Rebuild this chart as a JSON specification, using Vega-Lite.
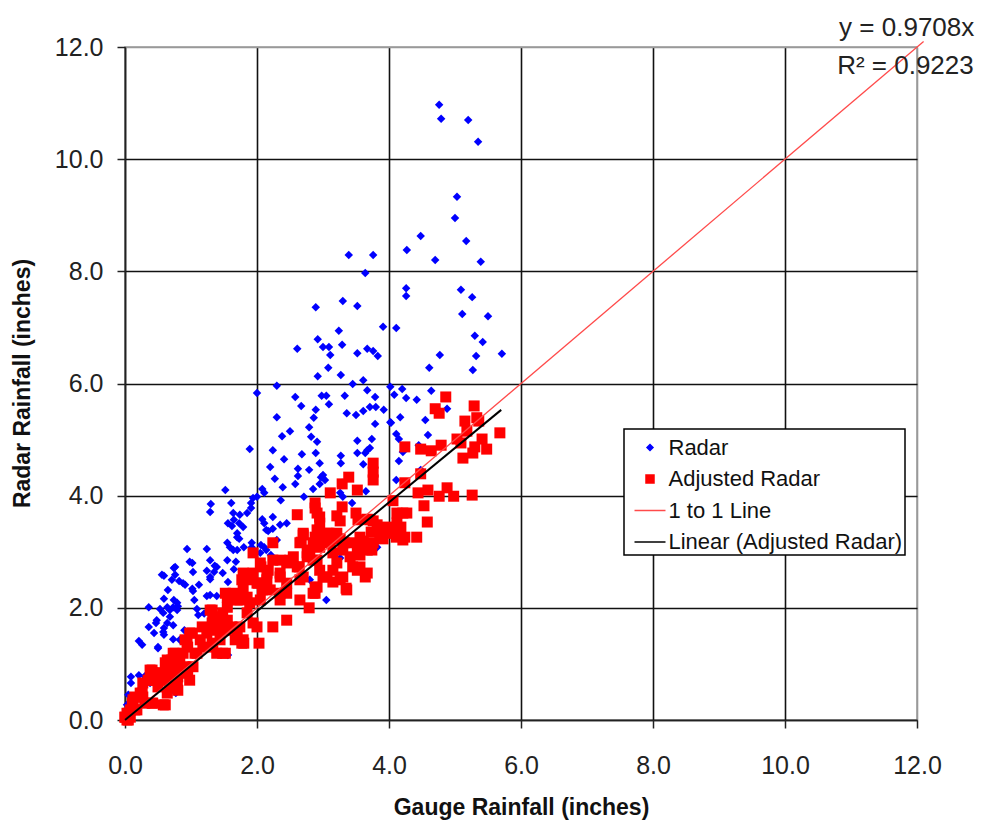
{
  "$schema": "https://vega.github.io/schema/vega-lite/v6.json",
  "autosize": {"type": "none"},
  "width": 792,
  "height": 673,
  "padding": {"left": 125, "top": 47, "right": 67, "bottom": 104},
  "background": "white",
  "config": {
    "view": {"stroke": "#999999", "strokeWidth": 1.5},
    "axis": {
      "labelFont": "Liberation Sans",
      "labelFontSize": 25,
      "labelColor": "#222222",
      "labelFlush": false,
      "labelOverlap": false,
      "tickSize": 8,
      "tickColor": "#222222",
      "tickWidth": 1.5,
      "domainColor": "#222222",
      "domainWidth": 1.5,
      "gridWidth": 1.6,
      "gridColor": {"condition": {"test": "datum.value === 12", "value": "#999999"}, "value": "#111111"},
      "titleFont": "Liberation Sans",
      "titleFontSize": 23,
      "titleFontWeight": "bold",
      "titleColor": "#111111"
    }
  },
  "datasets": {
    "radar": [
      {"gauge":4.76,"radar":10.97},{"gauge":4.79,"radar":10.72},{"gauge":5.20,"radar":10.70},{"gauge":5.35,"radar":10.31},
      {"gauge":5.03,"radar":9.33},{"gauge":5.00,"radar":8.95},{"gauge":4.48,"radar":8.63},{"gauge":5.17,"radar":8.54},
      {"gauge":4.27,"radar":8.38},{"gauge":4.70,"radar":8.20},{"gauge":5.39,"radar":8.17},{"gauge":3.39,"radar":8.29},
      {"gauge":3.76,"radar":8.29},{"gauge":3.64,"radar":7.97},{"gauge":4.26,"radar":7.70},{"gauge":4.26,"radar":7.56},
      {"gauge":5.09,"radar":7.67},{"gauge":5.26,"radar":7.54},{"gauge":5.11,"radar":7.24},{"gauge":5.50,"radar":7.20},
      {"gauge":2.89,"radar":7.36},{"gauge":3.30,"radar":7.47},{"gauge":3.52,"radar":7.38},{"gauge":3.91,"radar":7.01},
      {"gauge":4.11,"radar":6.99},{"gauge":3.24,"radar":6.94},{"gauge":2.92,"radar":6.79},{"gauge":3.00,"radar":6.65},
      {"gauge":3.09,"radar":6.65},{"gauge":3.11,"radar":6.51},{"gauge":3.29,"radar":6.69},{"gauge":3.52,"radar":6.54},
      {"gauge":3.67,"radar":6.62},{"gauge":3.76,"radar":6.58},{"gauge":3.83,"radar":6.49},{"gauge":2.61,"radar":6.62},
      {"gauge":3.08,"radar":6.28},{"gauge":2.92,"radar":6.13},{"gauge":3.27,"radar":6.15},{"gauge":3.61,"radar":6.06},
      {"gauge":3.45,"radar":5.99},{"gauge":4.61,"radar":6.28},{"gauge":4.77,"radar":6.51},{"gauge":5.30,"radar":6.85},
      {"gauge":5.42,"radar":6.74},{"gauge":5.32,"radar":6.49},{"gauge":5.71,"radar":6.53},{"gauge":5.27,"radar":6.24},
      {"gauge":4.64,"radar":5.87},{"gauge":4.02,"radar":5.94},{"gauge":4.20,"radar":5.90},{"gauge":4.08,"radar":5.80},
      {"gauge":3.67,"radar":5.88},{"gauge":3.79,"radar":5.76},{"gauge":2.00,"radar":5.83},{"gauge":2.30,"radar":5.96},
      {"gauge":2.58,"radar":5.76},{"gauge":2.98,"radar":5.78},{"gauge":3.05,"radar":5.78},{"gauge":3.33,"radar":5.78},
      {"gauge":4.26,"radar":5.74},{"gauge":4.42,"radar":5.71},{"gauge":4.88,"radar":5.55},{"gauge":2.67,"radar":5.60},
      {"gauge":2.30,"radar":5.40},{"gauge":2.89,"radar":5.53},{"gauge":2.86,"radar":5.39},{"gauge":2.79,"radar":5.22},
      {"gauge":2.50,"radar":5.15},{"gauge":2.38,"radar":5.06},{"gauge":2.82,"radar":5.05},{"gauge":2.91,"radar":4.96},
      {"gauge":1.89,"radar":4.83},{"gauge":2.24,"radar":4.81},{"gauge":2.68,"radar":4.74},{"gauge":2.89,"radar":4.76},
      {"gauge":2.41,"radar":4.65},{"gauge":2.20,"radar":4.51},{"gauge":2.62,"radar":4.48},{"gauge":2.79,"radar":4.46},
      {"gauge":2.62,"radar":4.35},{"gauge":2.27,"radar":4.30},{"gauge":2.58,"radar":4.21},{"gauge":2.39,"radar":4.15},
      {"gauge":2.85,"radar":4.12},{"gauge":2.08,"radar":4.12},{"gauge":2.11,"radar":4.05},{"gauge":1.52,"radar":4.10},
      {"gauge":1.94,"radar":3.96},{"gauge":2.36,"radar":3.92},{"gauge":1.30,"radar":3.85},{"gauge":1.61,"radar":3.87},
      {"gauge":1.91,"radar":3.87},{"gauge":2.71,"radar":3.98},{"gauge":2.95,"radar":4.21},{"gauge":3.36,"radar":5.47},
      {"gauge":3.50,"radar":5.44},{"gauge":3.61,"radar":5.51},{"gauge":3.71,"radar":5.58},{"gauge":3.80,"radar":5.58},
      {"gauge":3.92,"radar":5.53},{"gauge":3.79,"radar":5.28},{"gauge":4.03,"radar":5.30},{"gauge":4.17,"radar":5.40},
      {"gauge":4.55,"radar":5.35},{"gauge":4.59,"radar":5.08},{"gauge":4.11,"radar":5.10},{"gauge":4.15,"radar":5.01},
      {"gauge":3.52,"radar":4.98},{"gauge":3.74,"radar":5.01},{"gauge":3.71,"radar":4.85},{"gauge":3.67,"radar":4.81},
      {"gauge":3.64,"radar":4.76},{"gauge":3.27,"radar":4.71},{"gauge":3.27,"radar":4.58},{"gauge":3.61,"radar":4.56},
      {"gauge":3.52,"radar":4.76},{"gauge":4.15,"radar":4.62},{"gauge":4.45,"radar":4.90},{"gauge":4.48,"radar":4.46},
      {"gauge":4.11,"radar":4.28},{"gauge":2.97,"radar":4.33},{"gauge":3.03,"radar":4.28},{"gauge":3.29,"radar":4.23},
      {"gauge":3.65,"radar":4.08},{"gauge":3.26,"radar":4.05},{"gauge":3.30,"radar":3.98},{"gauge":3.44,"radar":3.87},
      {"gauge":4.02,"radar":5.31},{"gauge":4.21,"radar":4.78},{"gauge":3.09,"radar":5.63},{"gauge":2.95,"radar":4.58},
      {"gauge":3.00,"radar":4.37},{"gauge":2.00,"radar":3.98},{"gauge":1.29,"radar":3.71},{"gauge":1.64,"radar":3.69},
      {"gauge":1.74,"radar":3.66},{"gauge":1.85,"radar":3.69},{"gauge":1.91,"radar":3.78},{"gauge":1.65,"radar":3.57},
      {"gauge":1.73,"radar":3.51},{"gauge":1.79,"radar":3.44},{"gauge":1.70,"radar":3.33},{"gauge":1.70,"radar":3.26},
      {"gauge":2.08,"radar":3.58},{"gauge":2.24,"radar":3.62},{"gauge":2.45,"radar":3.51},{"gauge":2.35,"radar":3.48},
      {"gauge":2.24,"radar":3.41},{"gauge":2.14,"radar":3.39},{"gauge":2.30,"radar":3.21},{"gauge":2.11,"radar":3.08},
      {"gauge":2.05,"radar":2.98},{"gauge":1.92,"radar":3.08},{"gauge":1.55,"radar":3.16},{"gauge":1.59,"radar":3.08},
      {"gauge":1.64,"radar":3.03},{"gauge":1.70,"radar":3.03},{"gauge":0.94,"radar":3.05},{"gauge":1.24,"radar":3.05},
      {"gauge":1.29,"radar":2.85},{"gauge":1.39,"radar":2.73},{"gauge":1.55,"radar":2.85},{"gauge":1.24,"radar":2.66},
      {"gauge":1.29,"radar":2.55},{"gauge":1.48,"radar":2.62},{"gauge":0.76,"radar":2.73},{"gauge":1.02,"radar":2.80},
      {"gauge":0.56,"radar":2.59},{"gauge":0.76,"radar":2.59},{"gauge":0.82,"radar":2.48},{"gauge":0.88,"radar":2.44},
      {"gauge":0.71,"radar":2.50},{"gauge":0.91,"radar":2.41},{"gauge":1.12,"radar":2.41},{"gauge":1.03,"radar":2.30},
      {"gauge":1.24,"radar":2.21},{"gauge":1.39,"radar":2.21},{"gauge":1.09,"radar":1.98},{"gauge":0.36,"radar":2.01},
      {"gauge":0.53,"radar":1.98},{"gauge":0.64,"radar":2.01},{"gauge":0.68,"radar":1.96},{"gauge":0.58,"radar":1.91},
      {"gauge":0.68,"radar":1.84},{"gauge":0.73,"radar":2.01},{"gauge":0.79,"radar":1.96},{"gauge":0.48,"radar":1.78},
      {"gauge":0.64,"radar":1.73},{"gauge":0.36,"radar":1.66},{"gauge":0.73,"radar":1.69},{"gauge":0.58,"radar":1.57},
      {"gauge":0.21,"radar":1.41},{"gauge":0.26,"radar":1.34},{"gauge":0.50,"radar":1.28},{"gauge":0.73,"radar":1.44},
      {"gauge":0.83,"radar":1.43},{"gauge":1.56,"radar":3.51},{"gauge":1.62,"radar":3.46},{"gauge":2.11,"radar":3.51},
      {"gauge":1.73,"radar":3.23},{"gauge":2.17,"radar":3.37},{"gauge":1.92,"radar":3.16},{"gauge":2.06,"radar":3.12},
      {"gauge":2.14,"radar":3.03},{"gauge":2.21,"radar":2.94},{"gauge":1.80,"radar":3.08},{"gauge":1.68,"radar":2.82},
      {"gauge":0.98,"radar":2.82},{"gauge":1.36,"radar":2.75},{"gauge":1.35,"radar":2.64},{"gauge":1.65,"radar":2.69},
      {"gauge":0.74,"radar":2.71},{"gauge":1.03,"radar":2.64},{"gauge":0.59,"radar":2.57},{"gauge":1.29,"radar":2.51},
      {"gauge":1.56,"radar":2.46},{"gauge":0.65,"radar":2.32},{"gauge":1.02,"radar":2.34},{"gauge":0.59,"radar":2.16},
      {"gauge":0.74,"radar":2.14},{"gauge":0.79,"radar":2.09},{"gauge":1.05,"radar":2.14},{"gauge":1.29,"radar":2.23},
      {"gauge":1.52,"radar":2.23},{"gauge":0.80,"radar":2.03},{"gauge":1.11,"radar":1.87},{"gauge":0.47,"radar":1.73},
      {"gauge":0.59,"radar":1.64},{"gauge":0.59,"radar":1.52},{"gauge":0.44,"radar":1.55},{"gauge":0.50,"radar":1.30},
      {"gauge":0.09,"radar":0.77},{"gauge":0.21,"radar":0.80},{"gauge":0.09,"radar":0.66},{"gauge":0.38,"radar":0.66},
      {"gauge":0.77,"radar":0.48},{"gauge":1.56,"radar":1.16},{"gauge":0.05,"radar":0.45},{"gauge":0.30,"radar":0.78},
      {"gauge":0.03,"radar":0.27},{"gauge":3.05,"radar":2.14},{"gauge":2.80,"radar":2.50},{"gauge":3.82,"radar":3.08},
      {"gauge":3.06,"radar":3.21},{"gauge":3.26,"radar":2.89},{"gauge":0.12,"radar":0.35},{"gauge":0.90,"radar":1.60},
      {"gauge":1.20,"radar":1.90}
    ],
    "adjusted": [
      {"gauge":4.86,"radar":5.76},{"gauge":4.70,"radar":5.55},{"gauge":4.76,"radar":5.47},{"gauge":5.29,"radar":5.60},
      {"gauge":5.15,"radar":5.33},{"gauge":5.33,"radar":5.39},{"gauge":5.36,"radar":5.33},{"gauge":5.18,"radar":5.15},
      {"gauge":5.68,"radar":5.12},{"gauge":5.03,"radar":5.01},{"gauge":5.41,"radar":5.01},{"gauge":5.09,"radar":4.94},
      {"gauge":4.24,"radar":4.87},{"gauge":4.48,"radar":4.83},{"gauge":4.64,"radar":4.80},{"gauge":4.79,"radar":4.90},
      {"gauge":5.30,"radar":4.87},{"gauge":5.48,"radar":4.83},{"gauge":5.12,"radar":4.67},{"gauge":5.27,"radar":4.76},
      {"gauge":3.76,"radar":4.58},{"gauge":3.76,"radar":4.42},{"gauge":3.76,"radar":4.28},{"gauge":4.48,"radar":4.39},
      {"gauge":4.24,"radar":4.23},{"gauge":3.39,"radar":4.33},{"gauge":3.29,"radar":4.21},{"gauge":3.52,"radar":4.10},
      {"gauge":3.11,"radar":4.05},{"gauge":4.59,"radar":4.10},{"gauge":4.44,"radar":4.05},{"gauge":4.88,"radar":4.14},
      {"gauge":4.76,"radar":3.99},{"gauge":4.98,"radar":3.99},{"gauge":5.26,"radar":4.01},{"gauge":4.06,"radar":3.91},
      {"gauge":4.53,"radar":3.82},{"gauge":3.29,"radar":3.80},{"gauge":4.12,"radar":3.69},{"gauge":4.27,"radar":3.69},
      {"gauge":4.58,"radar":3.53},{"gauge":4.12,"radar":3.51},{"gauge":4.18,"radar":3.44},{"gauge":4.09,"radar":3.33},
      {"gauge":4.24,"radar":3.26},{"gauge":4.42,"radar":3.26},{"gauge":2.88,"radar":3.87},{"gauge":2.88,"radar":3.78},
      {"gauge":3.21,"radar":3.64},{"gauge":2.61,"radar":3.66},{"gauge":2.91,"radar":3.69},{"gauge":2.95,"radar":3.62},
      {"gauge":3.26,"radar":3.55},{"gauge":3.50,"radar":3.69},{"gauge":3.53,"radar":3.57},{"gauge":3.67,"radar":3.58},
      {"gauge":3.76,"radar":3.55},{"gauge":3.82,"radar":3.48},{"gauge":4.02,"radar":3.33},{"gauge":4.11,"radar":3.26},
      {"gauge":3.86,"radar":3.32},{"gauge":3.91,"radar":3.23},{"gauge":3.73,"radar":3.35},{"gauge":2.95,"radar":3.51},
      {"gauge":2.91,"radar":3.39},{"gauge":2.88,"radar":3.26},{"gauge":2.85,"radar":3.16},{"gauge":2.70,"radar":3.30},
      {"gauge":2.67,"radar":3.17},{"gauge":3.09,"radar":3.33},{"gauge":3.06,"radar":3.21},{"gauge":3.26,"radar":3.23},
      {"gauge":3.32,"radar":3.16},{"gauge":3.45,"radar":3.16},{"gauge":3.55,"radar":3.08},{"gauge":3.61,"radar":3.19},
      {"gauge":3.74,"radar":3.03},{"gauge":3.52,"radar":3.01},{"gauge":3.56,"radar":2.94},{"gauge":3.52,"radar":2.67},
      {"gauge":3.64,"radar":2.55},{"gauge":3.35,"radar":2.35},{"gauge":3.26,"radar":2.50},{"gauge":3.15,"radar":2.46},
      {"gauge":3.06,"radar":2.55},{"gauge":2.95,"radar":2.67},{"gauge":2.88,"radar":2.37},{"gauge":2.88,"radar":2.26},
      {"gauge":2.79,"radar":2.00},{"gauge":2.65,"radar":2.14},{"gauge":2.45,"radar":1.78},{"gauge":2.24,"radar":1.66},
      {"gauge":2.24,"radar":3.16},{"gauge":1.94,"radar":2.98},{"gauge":2.06,"radar":2.73},{"gauge":2.24,"radar":2.85},
      {"gauge":2.35,"radar":2.62},{"gauge":2.45,"radar":2.80},{"gauge":2.55,"radar":2.91},{"gauge":2.64,"radar":2.73},
      {"gauge":2.65,"radar":2.50},{"gauge":2.76,"radar":2.98},{"gauge":2.85,"radar":2.85},{"gauge":2.95,"radar":3.08},
      {"gauge":3.15,"radar":2.98},{"gauge":2.45,"radar":2.44},{"gauge":2.35,"radar":2.26},{"gauge":2.15,"radar":2.50},
      {"gauge":2.20,"radar":2.32},{"gauge":1.94,"radar":2.62},{"gauge":2.00,"radar":2.44},{"gauge":1.79,"radar":2.62},
      {"gauge":1.85,"radar":2.50},{"gauge":1.79,"radar":2.37},{"gauge":1.85,"radar":2.19},{"gauge":1.89,"radar":2.09},
      {"gauge":2.05,"radar":2.14},{"gauge":1.74,"radar":2.14},{"gauge":1.64,"radar":2.26},{"gauge":1.70,"radar":2.14},
      {"gauge":1.55,"radar":2.19},{"gauge":1.55,"radar":2.01},{"gauge":1.48,"radar":1.91},{"gauge":1.55,"radar":1.78},
      {"gauge":1.29,"radar":1.96},{"gauge":1.33,"radar":1.78},{"gauge":1.39,"radar":1.66},{"gauge":1.59,"radar":1.62},
      {"gauge":1.70,"radar":1.48},{"gauge":1.79,"radar":1.43},{"gauge":1.80,"radar":1.37},{"gauge":2.03,"radar":1.37},
      {"gauge":1.74,"radar":1.66},{"gauge":1.94,"radar":1.73},{"gauge":2.00,"radar":1.66},{"gauge":1.85,"radar":1.91},
      {"gauge":1.24,"radar":1.55},{"gauge":1.14,"radar":1.43},{"gauge":1.18,"radar":1.30},{"gauge":0.98,"radar":1.55},
      {"gauge":0.94,"radar":1.37},{"gauge":1.09,"radar":1.19},{"gauge":1.33,"radar":1.30},{"gauge":1.39,"radar":1.19},
      {"gauge":1.48,"radar":1.19},{"gauge":1.44,"radar":1.43},{"gauge":0.88,"radar":1.19},{"gauge":0.83,"radar":1.07},
      {"gauge":0.73,"radar":1.19},{"gauge":0.64,"radar":1.07},{"gauge":0.64,"radar":0.95},{"gauge":0.68,"radar":0.84},
      {"gauge":0.53,"radar":0.84},{"gauge":0.42,"radar":0.84},{"gauge":0.38,"radar":0.71},{"gauge":0.58,"radar":0.71},
      {"gauge":0.68,"radar":0.66},{"gauge":0.79,"radar":0.66},{"gauge":0.94,"radar":0.84},{"gauge":0.98,"radar":0.71},
      {"gauge":0.83,"radar":0.84},{"gauge":0.73,"radar":1.02},{"gauge":1.03,"radar":0.95},{"gauge":0.38,"radar":0.89},
      {"gauge":0.27,"radar":0.41},{"gauge":0.23,"radar":0.48},{"gauge":0.42,"radar":0.30},{"gauge":0.58,"radar":0.27},
      {"gauge":0.12,"radar":0.23},{"gauge":0.12,"radar":0.36},{"gauge":0.08,"radar":0.18},{"gauge":0.03,"radar":0.12},
      {"gauge":0.03,"radar":0.00},{"gauge":0.00,"radar":0.05},{"gauge":0.08,"radar":0.05},{"gauge":0.18,"radar":0.18},
      {"gauge":0.79,"radar":0.59},{"gauge":0.64,"radar":0.48},{"gauge":0.27,"radar":0.66},{"gauge":3.71,"radar":3.57},
      {"gauge":3.97,"radar":3.44},{"gauge":4.21,"radar":3.69},{"gauge":4.17,"radar":3.33},{"gauge":4.21,"radar":3.21},
      {"gauge":3.56,"radar":3.26},{"gauge":3.67,"radar":3.03},{"gauge":3.76,"radar":3.16},{"gauge":3.41,"radar":2.91},
      {"gauge":3.45,"radar":2.73},{"gauge":3.56,"radar":2.73},{"gauge":3.67,"radar":2.62},{"gauge":3.21,"radar":2.80},
      {"gauge":3.15,"radar":2.67},{"gauge":3.36,"radar":2.32},{"gauge":3.30,"radar":2.55},{"gauge":3.00,"radar":2.55},
      {"gauge":2.91,"radar":2.37},{"gauge":2.85,"radar":2.26},{"gauge":2.35,"radar":2.14},{"gauge":2.45,"radar":2.26},
      {"gauge":2.70,"radar":2.55},{"gauge":2.61,"radar":2.73},{"gauge":2.50,"radar":2.85},{"gauge":2.35,"radar":2.85},
      {"gauge":2.15,"radar":2.62},{"gauge":2.09,"radar":2.44},{"gauge":2.35,"radar":2.55},{"gauge":2.76,"radar":2.91},
      {"gauge":2.80,"radar":3.03},{"gauge":2.65,"radar":3.16},{"gauge":2.70,"radar":3.33},{"gauge":2.95,"radar":3.21},
      {"gauge":3.06,"radar":3.33},{"gauge":3.11,"radar":3.16},{"gauge":3.21,"radar":3.33},{"gauge":3.30,"radar":3.03},
      {"gauge":2.91,"radar":2.85},{"gauge":2.05,"radar":2.80},{"gauge":2.17,"radar":2.67},{"gauge":1.82,"radar":2.59},
      {"gauge":1.77,"radar":2.50},{"gauge":2.02,"radar":2.44},{"gauge":2.08,"radar":2.32},{"gauge":1.52,"radar":2.26},
      {"gauge":1.56,"radar":2.14},{"gauge":1.71,"radar":2.19},{"gauge":1.32,"radar":1.96},{"gauge":1.41,"radar":1.84},
      {"gauge":1.32,"radar":1.73},{"gauge":1.36,"radar":1.60},{"gauge":1.17,"radar":1.66},{"gauge":1.52,"radar":1.60},
      {"gauge":1.62,"radar":1.66},{"gauge":1.67,"radar":1.43},{"gauge":1.77,"radar":1.37},{"gauge":1.52,"radar":1.19},
      {"gauge":1.32,"radar":1.37},{"gauge":1.02,"radar":1.55},{"gauge":0.91,"radar":1.43},{"gauge":0.95,"radar":1.30},
      {"gauge":1.06,"radar":1.19},{"gauge":0.76,"radar":1.19},{"gauge":0.71,"radar":1.07},{"gauge":0.61,"radar":1.02},
      {"gauge":0.80,"radar":0.95},{"gauge":0.91,"radar":0.95},{"gauge":0.95,"radar":0.84},{"gauge":0.80,"radar":0.77},
      {"gauge":0.56,"radar":0.84},{"gauge":0.41,"radar":0.89},{"gauge":0.35,"radar":0.71},{"gauge":0.45,"radar":0.71},
      {"gauge":0.61,"radar":0.71},{"gauge":0.76,"radar":0.59},{"gauge":0.80,"radar":0.53},{"gauge":0.50,"radar":0.59},
      {"gauge":0.26,"radar":0.48},{"gauge":0.15,"radar":0.41},{"gauge":0.30,"radar":0.30},{"gauge":0.41,"radar":0.30},
      {"gauge":0.61,"radar":0.27},{"gauge":0.11,"radar":0.30},{"gauge":0.05,"radar":0.12},{"gauge":0.00,"radar":0.05},
      {"gauge":0.05,"radar":0.00},{"gauge":0.15,"radar":0.18}
    ],
    "oneToOne": [{"gauge":0,"radar":0},{"gauge":12.1,"radar":12.1}],
    "trend": [{"gauge":0,"radar":0},{"gauge":5.7,"radar":5.53}],
    "annotations": [
      {"gauge":10.82,"radar":12.20,"label":"y = 0.9708x"},
      {"gauge":10.79,"radar":11.52,"label":"R² = 0.9223"}
    ]
  },
  "encoding": {
    "x": {"field":"gauge","type":"quantitative",
      "scale":{"domain":[0,12],"nice":false,"zero":true},
      "axis":{"values":[0,2,4,6,8,10,12],"format":".1f","title":"Gauge Rainfall (inches)","labelPadding":25,"titleY":87,"titleBaseline":"middle","titleAnchor":"middle"}},
    "y": {"field":"radar","type":"quantitative",
      "scale":{"domain":[0,12],"nice":false,"zero":true},
      "axis":{"values":[0,2,4,6,8,10,12],"format":".1f","title":"Radar Rainfall (inches)","labelPadding":14,"titleX":-103,"titleY":336,"titleAngle":-90,"titleBaseline":"middle","titleAlign":"center"}}
  },
  "layer": [
    {
      "data": {"name": "radar"},
      "mark": {"type":"point","filled":true,"size":72,"opacity":1},
      "encoding": {
        "color": {"datum":"Radar","type":"nominal",
          "scale":{"domain":["Radar","Adjusted Radar","1 to 1 Line","Linear (Adjusted Radar)"],"range":["#0000ff","#ff0000","#ff4a4a","#000000"]},
          "legend":{"title":null,"orient":"none","legendX":499,"legendY":382,"padding":2,"rowPadding":3.5,
            "symbolSize":625,"symbolOffset":7.5,"labelOffset":2,"symbolStrokeWidth":1.5,
            "labelFont":"Liberation Sans","labelFontSize":22,"labelColor":"#111111","labelLimit":400,
            "fillColor":"white","strokeColor":"#000000",
            "encoding":{
              "symbols":{
                "stroke":{"value":{"expr":"scale('color', datum.value)"}},
                "strokeWidth":{"value":1.5},
                "size":{"value":{"expr":"datum.value === 'Radar' ? 36 : datum.value === 'Adjusted Radar' ? 64 : 961"}}},
              "legend":{"strokeWidth":{"value":1.5}}}}},
        "shape": {"datum":"Radar","type":"nominal",
          "scale":{"domain":["Radar","Adjusted Radar","1 to 1 Line","Linear (Adjusted Radar)"],"range":["diamond","square","stroke","stroke"]}}
      }
    },
    {
      "data": {"name": "adjusted"},
      "mark": {"type":"point","filled":true,"size":121,"opacity":1},
      "encoding": {
        "color": {"datum":"Adjusted Radar","type":"nominal"},
        "shape": {"datum":"Adjusted Radar","type":"nominal"}
      }
    },
    {
      "data": {"name": "oneToOne"},
      "mark": {"type":"line","color":"#ff4a4a","strokeWidth":1.3,"clip":false},
      "encoding": {}
    },
    {
      "data": {"name": "trend"},
      "mark": {"type":"line","color":"#000000","strokeWidth":2},
      "encoding": {}
    },
    {
      "data": {"name": "annotations"},
      "mark": {"type":"text","align":"left","baseline":"alphabetic","font":"Liberation Sans","fontSize":26,"color":"#222222"},
      "encoding": {"text": {"field":"label","type":"nominal"}}
    }
  ]
}
